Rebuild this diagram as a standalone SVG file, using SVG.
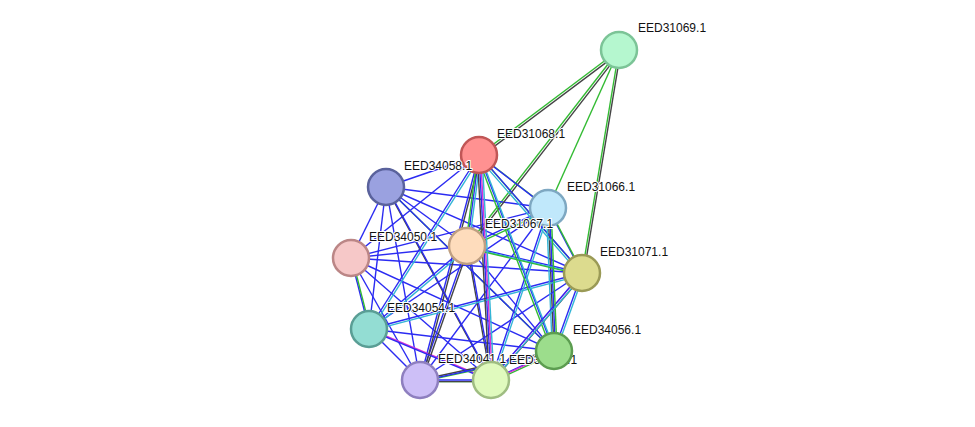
<svg xmlns="http://www.w3.org/2000/svg" width="975" height="427" viewBox="0 0 975 427">
<style>
line{stroke-width:1.4;fill:none}
.b{stroke:#2b2bf2}.c{stroke:#33b5d6}.g{stroke:#33bb33}.d{stroke:#444}.m{stroke:#d630d6}
.n{stroke-width:2.5}
text{font-family:"Liberation Sans",Arial,sans-serif;font-size:12px;fill:#111;paint-order:stroke;stroke:#fff;stroke-width:2px}
</style>
<rect width="975" height="427" fill="#fff"/>
<g id="connectors">
<g>
<line class="g" x1="619" y1="50" x2="479" y2="155"/>
<line class="g" x1="619" y1="50" x2="467" y2="246"/>
<line class="g" x1="619" y1="50" x2="548" y2="208"/>
<line class="g" x1="619" y1="50" x2="582" y2="273"/>
<line class="b" x1="479" y1="155" x2="386" y2="187"/>
<line class="g" x1="479" y1="155" x2="548" y2="208"/>
<line class="b" x1="479" y1="155" x2="467" y2="246"/>
<line class="b" x1="479" y1="155" x2="351" y2="258"/>
<line class="g" x1="479" y1="155" x2="582" y2="273"/>
<line class="b" x1="479" y1="155" x2="369" y2="329"/>
<line class="b" x1="479" y1="155" x2="554" y2="351"/>
<line class="b" x1="479" y1="155" x2="420" y2="380"/>
<line class="b" x1="479" y1="155" x2="491" y2="380"/>
<line class="b" x1="386" y1="187" x2="548" y2="208"/>
<line class="b" x1="386" y1="187" x2="467" y2="246"/>
<line class="b" x1="386" y1="187" x2="351" y2="258"/>
<line class="b" x1="386" y1="187" x2="582" y2="273"/>
<line class="b" x1="386" y1="187" x2="369" y2="329"/>
<line class="g" x1="386" y1="187" x2="554" y2="351"/>
<line class="b" x1="386" y1="187" x2="420" y2="380"/>
<line class="d" x1="386" y1="187" x2="491" y2="380"/>
<line class="b" x1="548" y1="208" x2="467" y2="246"/>
<line class="b" x1="548" y1="208" x2="351" y2="258"/>
<line class="b" x1="548" y1="208" x2="582" y2="273"/>
<line class="b" x1="548" y1="208" x2="369" y2="329"/>
<line class="d" x1="548" y1="208" x2="554" y2="351"/>
<line class="b" x1="548" y1="208" x2="420" y2="380"/>
<line class="b" x1="548" y1="208" x2="491" y2="380"/>
<line class="b" x1="467" y1="246" x2="351" y2="258"/>
<line class="b" x1="467" y1="246" x2="582" y2="273"/>
<line class="b" x1="467" y1="246" x2="369" y2="329"/>
<line class="b" x1="467" y1="246" x2="554" y2="351"/>
<line class="b" x1="467" y1="246" x2="420" y2="380"/>
<line class="d" x1="467" y1="246" x2="491" y2="380"/>
<line class="b" x1="351" y1="258" x2="582" y2="273"/>
<line class="b" x1="351" y1="258" x2="369" y2="329"/>
<line class="b" x1="351" y1="258" x2="554" y2="351"/>
<line class="b" x1="351" y1="258" x2="420" y2="380"/>
<line class="b" x1="351" y1="258" x2="491" y2="380"/>
<line class="b" x1="582" y1="273" x2="369" y2="329"/>
<line class="b" x1="582" y1="273" x2="554" y2="351"/>
<line class="b" x1="582" y1="273" x2="420" y2="380"/>
<line class="m" x1="582" y1="273" x2="491" y2="380"/>
<line class="b" x1="369" y1="329" x2="554" y2="351"/>
<line class="b" x1="369" y1="329" x2="420" y2="380"/>
<line class="m" x1="369" y1="329" x2="491" y2="380"/>
<line class="d" x1="554" y1="351" x2="420" y2="380"/>
<line class="b" x1="554" y1="351" x2="491" y2="380"/>
<line class="b" x1="420" y1="380" x2="491" y2="380"/>
</g>
<g transform="translate(1.6,1.6)">
<line class="d" x1="619" y1="50" x2="479" y2="155"/>
<line class="d" x1="619" y1="50" x2="467" y2="246"/>
<line class="d" x1="619" y1="50" x2="582" y2="273"/>
<line class="b" x1="479" y1="155" x2="548" y2="208"/>
<line class="c" x1="479" y1="155" x2="467" y2="246"/>
<line class="b" x1="479" y1="155" x2="582" y2="273"/>
<line class="c" x1="479" y1="155" x2="369" y2="329"/>
<line class="c" x1="479" y1="155" x2="554" y2="351"/>
<line class="d" x1="479" y1="155" x2="420" y2="380"/>
<line class="m" x1="479" y1="155" x2="491" y2="380"/>
<line class="b" x1="386" y1="187" x2="554" y2="351"/>
<line class="b" x1="386" y1="187" x2="491" y2="380"/>
<line class="g" x1="548" y1="208" x2="467" y2="246"/>
<line class="g" x1="548" y1="208" x2="582" y2="273"/>
<line class="b" x1="548" y1="208" x2="554" y2="351"/>
<line class="c" x1="548" y1="208" x2="491" y2="380"/>
<line class="c" x1="467" y1="246" x2="582" y2="273"/>
<line class="c" x1="467" y1="246" x2="369" y2="329"/>
<line class="d" x1="467" y1="246" x2="420" y2="380"/>
<line class="b" x1="467" y1="246" x2="491" y2="380"/>
<line class="g" x1="351" y1="258" x2="369" y2="329"/>
<line class="c" x1="582" y1="273" x2="369" y2="329"/>
<line class="c" x1="582" y1="273" x2="554" y2="351"/>
<line class="d" x1="582" y1="273" x2="491" y2="380"/>
<line class="b" x1="369" y1="329" x2="491" y2="380"/>
<line class="g" x1="554" y1="351" x2="420" y2="380"/>
<line class="g" x1="554" y1="351" x2="491" y2="380"/>
<line class="g" x1="420" y1="380" x2="491" y2="380"/>
</g>
<g transform="translate(-1.6,1.6)">
<line class="g" x1="479" y1="155" x2="467" y2="246"/>
<line class="c" x1="479" y1="155" x2="582" y2="273"/>
<line class="g" x1="479" y1="155" x2="554" y2="351"/>
<line class="d" x1="479" y1="155" x2="491" y2="380"/>
<line class="c" x1="548" y1="208" x2="554" y2="351"/>
<line class="g" x1="467" y1="246" x2="582" y2="273"/>
<line class="b" x1="582" y1="273" x2="491" y2="380"/>
<line class="b" x1="554" y1="351" x2="420" y2="380"/>
<line class="m" x1="554" y1="351" x2="491" y2="380"/>
<line class="d" x1="420" y1="380" x2="491" y2="380"/>
</g>
<g transform="translate(3,-0.5)">
<line class="c" x1="479" y1="155" x2="491" y2="380"/>
<line class="g" x1="548" y1="208" x2="554" y2="351"/>
<line class="c" x1="582" y1="273" x2="491" y2="380"/>
</g>
</g>
<g id="EED31069.1"><circle class="n" cx="619" cy="50" r="18" fill="#b5f7cf" stroke="#7cc497"/><text x="638" y="32">EED31069.1</text></g>
<g id="EED31068.1"><circle class="n" cx="479" cy="155" r="18" fill="#ff9191" stroke="#c05656"/><text x="497" y="138">EED31068.1</text></g>
<g id="EED34058.1"><circle class="n" cx="386" cy="187" r="18" fill="#9aa1e0" stroke="#5a629c"/><text x="404" y="170">EED34058.1</text></g>
<g id="EED31066.1"><circle class="n" cx="548" cy="208" r="18" fill="#c0e8fb" stroke="#7ea8c2"/><text x="567" y="191">EED31066.1</text></g>
<g id="EED34050.1"><text x="369" y="241">EED34050.1</text><circle class="n" cx="351" cy="258" r="18" fill="#f6c8c8" stroke="#bb8686"/></g>
<g id="EED31067.1"><text x="485" y="228">EED31067.1</text><circle class="n" cx="467" cy="246" r="18" fill="#fedcbc" stroke="#bf9f82"/></g>
<g id="EED31071.1"><circle class="n" cx="582" cy="273" r="18" fill="#dcdb8e" stroke="#9a9a56"/><text x="600" y="256">EED31071.1</text></g>
<g id="EED34054.1"><text x="387" y="312">EED34054.1</text><circle class="n" cx="369" cy="329" r="18" fill="#93ddd3" stroke="#5a9e95"/></g>
<g id="EED34041.1"><text x="438" y="363">EED34041.1</text><circle class="n" cx="420" cy="380" r="18" fill="#cdbff7" stroke="#8e7fbf"/></g>
<g id="EED34055.1"><text x="509" y="364">EED34055.1</text><circle class="n" cx="491" cy="380" r="18" fill="#e0fabe" stroke="#9fbd82"/></g>
<g id="EED34056.1"><circle class="n" cx="554" cy="351" r="18" fill="#9cdd8c" stroke="#5c9d50"/><text x="573" y="334">EED34056.1</text></g>
</svg>
